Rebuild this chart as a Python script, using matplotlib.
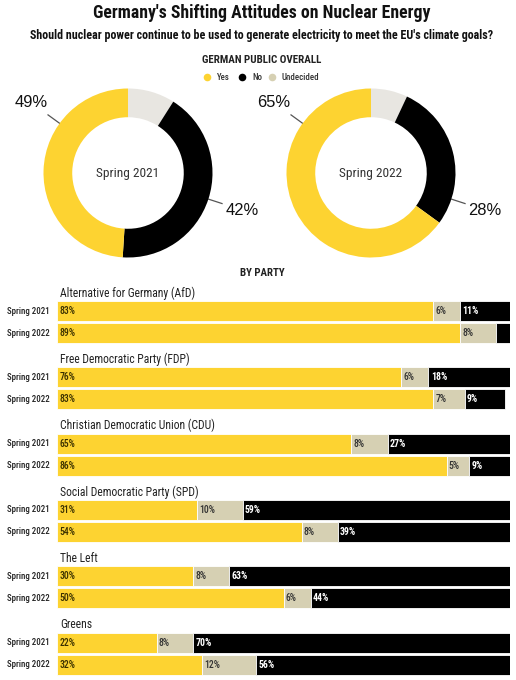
import numpy as np
import matplotlib
matplotlib.use('Agg')
import matplotlib.pyplot as plt

plt.rcParams['font.family'] = ['Roboto Condensed', 'Liberation Sans', 'DejaVu Sans']

# Datos
overall_periods = ['Spring 2021', 'Spring 2022']
overall_yes = [49, 65]
overall_no = [42, 28]
overall_undecided = [9, 7]

parties = ['Alternative for Germany (AfD)', 'Free Democratic Party (FDP)',
           'Christian Democratic Union (CDU)', 'Social Democratic Party (SPD)',
           'The Left', 'Greens']
yes_2021 = [83, 76, 65, 31, 30, 22]
und_2021 = [6, 6, 8, 10, 8, 8]
no_2021 = [11, 18, 27, 59, 63, 70]
yes_2022 = [89, 83, 86, 54, 50, 32]
und_2022 = [8, 7, 5, 8, 6, 12]
no_2022 = [3, 9, 9, 39, 44, 56]
no_2022_labels = ['', '9%', '9%', '39%', '44%', '56%']

# Colores
YELLOW = '#FDD331'
BLACK = '#000000'
BEIGE = '#D6D0B3'
LIGHT = '#E8E6E1'

W, H = 516, 680
fig = plt.figure(figsize=(W / 100, H / 100), dpi=100)
fig.patch.set_facecolor('white')
renderer = fig.canvas.get_renderer()

# Capa para textos en pixeles
ov = fig.add_axes([0, 0, 1, 1])
ov.set_xlim(0, W)
ov.set_ylim(H, 0)
ov.axis('off')


def texto_ajustado(x, y, s, ancho, eje=ov, **kw):
    """Escribe un texto y ajusta el tamaño para que ocupe 'ancho' pixeles"""
    t = eje.text(x, y, s, **kw)
    bb = t.get_window_extent(renderer=renderer)
    t.set_fontsize(t.get_fontsize() * ancho / bb.width)
    return t


texto_ajustado(262, 13, "Germany's Shifting Attitudes on Nuclear Energy", 336, ha='center', va='center',
               fontsize=13, fontweight='bold', color='#111111')
texto_ajustado(262, 36, "Should nuclear power continue to be used to generate electricity to meet the EU's climate goals?",
               462, ha='center', va='center', fontsize=8, fontweight='bold', color='#111111')
texto_ajustado(262, 60, 'GERMAN PUBLIC OVERALL', 119, ha='center', va='center', fontsize=7,
               fontweight='bold', color='#222222')

# Leyenda
leg = [('Yes', YELLOW, 207, 13), ('No', BLACK, 242, 10), ('Undecided', BEIGE, 272, 37)]
for lab, col, x, w in leg:
    ov.scatter([x], [77], s=30, color=col, zorder=3, linewidths=0)
    texto_ajustado(x + 10, 77.5, lab, w, ha='left', va='center', fontsize=6.8, color='#333333',
                   fontweight='medium')

texto_ajustado(262, 273, 'BY PARTY', 45, ha='center', va='center', fontsize=6.8,
               fontweight='bold', color='#222222')

# Donas
R_PX = 84.5
centers = [(128, 173), (371, 173)]
YES_ANG = 144
NO_ANG = -18
for k, (cx, cy) in enumerate(centers):
    size = 180
    ax = fig.add_axes([(cx - size / 2) / W, 1 - (cy + size / 2) / H, size / W, size / H])
    vals = [overall_undecided[k], overall_no[k], overall_yes[k]]
    ax.pie(vals, colors=[LIGHT, BLACK, YELLOW], startangle=90, counterclock=False,
           radius=1, wedgeprops=dict(width=0.34, edgecolor='none'))
    ax.set_xlim(-size / 2 / R_PX, size / 2 / R_PX)
    ax.set_ylim(-size / 2 / R_PX, size / 2 / R_PX)
    ax.set_aspect('equal')
    ax.axis('off')
    texto_ajustado(cx, cy + 1, overall_periods[k], 63, ha='center', va='center', fontsize=9.5,
                   color='#333333')

    # etiquetas en la capa general
    for ang, val, r1, r2 in [(YES_ANG, overall_yes[k], 0.87, 1.17), (NO_ANG, overall_no[k], 1.0, 1.17)]:
        a = np.deg2rad(ang)
        x1, y1 = cx + r1 * R_PX * np.cos(a), cy - r1 * R_PX * np.sin(a)
        x2, y2 = cx + r2 * R_PX * np.cos(a), cy - r2 * R_PX * np.sin(a)
        ov.plot([x1, x2], [y1, y2], color='#555555', lw=0.9)
        tx, ty = cx + 1.42 * R_PX * np.cos(a), cy - 1.42 * R_PX * np.sin(a)
        texto_ajustado(tx, ty, f'{val}%', 33, ha='center', va='center', fontsize=13, color='#111111',
                       family=['Liberation Sans', 'DejaVu Sans'])

# Barras por partido
bx = fig.add_axes([57 / W, 0, 453 / W, 1])
bx.set_xlim(0, 100)
bx.set_ylim(H, 0)
bx.axis('off')
bx.patch.set_alpha(0)

# tamaños de referencia
t = ov.text(0, 0, 'Alternative for Germany (AfD)', fontsize=10)
party_fs = 10 * 135 / t.get_window_extent(renderer=renderer).width
t.remove()
t = ov.text(0, 0, '83%', fontsize=7, fontweight='medium')
val_fs = 7 * 16 / t.get_window_extent(renderer=renderer).width
t.remove()

BAR_H = 20
for i, party in enumerate(parties):
    y21 = 311 + i * 66.3
    y22 = y21 + 22
    ov.text(60, y21 - 18, party, ha='left', va='center', fontsize=party_fs, color='#222222')
    for y, yv, uv, nv, nlab, per in [(y21, yes_2021[i], und_2021[i], no_2021[i], f'{no_2021[i]}%', 'Spring 2021'),
                                     (y22, yes_2022[i], und_2022[i], no_2022[i], no_2022_labels[i], 'Spring 2022')]:
        bx.barh(y, yv, height=BAR_H, left=0, color=YELLOW, edgecolor='white', linewidth=0.6)
        bx.barh(y, uv, height=BAR_H, left=yv, color=BEIGE, edgecolor='white', linewidth=0.6)
        bx.barh(y, nv, height=BAR_H, left=yv + uv, color=BLACK, edgecolor='white', linewidth=0.6)
        bx.text(0.5, y, f'{yv}%', ha='left', va='center', fontsize=val_fs, color='#3a3000',
                fontweight='medium')
        bx.text(yv + 0.5, y, f'{uv}%', ha='left', va='center', fontsize=val_fs, color='#333333',
                fontweight='medium')
        bx.text(yv + uv + 0.5, y, nlab, ha='left', va='center', fontsize=val_fs,
                color='white', fontweight='bold')
        texto_ajustado(50, y, per, 43, ha='right', va='center', fontsize=6, color='#222222',
                       fontweight='medium')

fig.savefig('out.png', dpi=100, facecolor='white')
